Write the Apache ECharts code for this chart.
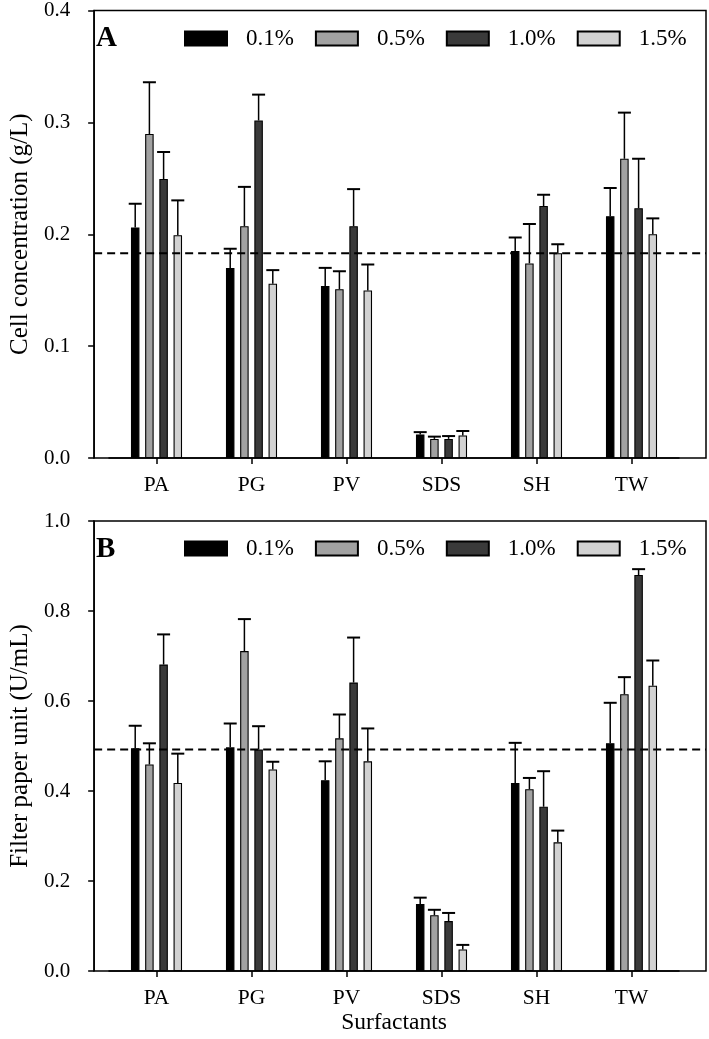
<!DOCTYPE html>
<html>
<head>
<meta charset="utf-8">
<script src="https://cdn.jsdelivr.net/npm/echarts@6/dist/echarts.min.js"></script>
<style>
  html, body { margin: 0; padding: 0; background: #fff; }
  #chart { width: 709px; height: 1039px; }
</style>
</head>
<body>
<div id="chart"></div>
<script>
// ---------- data ----------
const categories = ['PA', 'PG', 'PV', 'SDS', 'SH', 'TW'];
const concentrations = ['0.1%', '0.5%', '1.0%', '1.5%'];

// Panel A: cell concentration (g/L)
const cell_0_1 = [0.205, 0.169, 0.153, 0.021, 0.184, 0.215];
const cell_0_5 = [0.288, 0.206, 0.150, 0.017, 0.173, 0.266];
const cell_1_0 = [0.248, 0.300, 0.206, 0.017, 0.224, 0.222];
const cell_1_5 = [0.198, 0.155, 0.149, 0.020, 0.182, 0.199];
const cellErr_0_1 = [0.021, 0.017, 0.016, 0.002, 0.012, 0.025];
const cellErr_0_5 = [0.046, 0.035, 0.016, 0.002, 0.035, 0.041];
const cellErr_1_0 = [0.024, 0.023, 0.033, 0.0025, 0.010, 0.044];
const cellErr_1_5 = [0.031, 0.012, 0.023, 0.004, 0.008, 0.014];
const cellBaseline = 0.183;

// Panel B: filter paper unit (U/mL)
const fpu_0_1 = [0.495, 0.497, 0.424, 0.149, 0.418, 0.506];
const fpu_0_5 = [0.459, 0.711, 0.517, 0.124, 0.404, 0.615];
const fpu_1_0 = [0.681, 0.492, 0.641, 0.111, 0.365, 0.880];
const fpu_1_5 = [0.418, 0.448, 0.466, 0.048, 0.286, 0.634];
const fpuErr_0_1 = [0.050, 0.053, 0.042, 0.014, 0.089, 0.090];
const fpuErr_0_5 = [0.047, 0.071, 0.053, 0.012, 0.025, 0.038];
const fpuErr_1_0 = [0.067, 0.052, 0.100, 0.018, 0.079, 0.013];
const fpuErr_1_5 = [0.065, 0.017, 0.073, 0.010, 0.026, 0.056];
const fpuBaseline = 0.492;

// ---------- style ----------
const FONT = 'Liberation Serif';
const COLORS = ['#000000', '#a2a2a2', '#3a3a3a', '#d2d2d2'];
const BAR_W = 8.5;
const BAR_GAP = 0.67;
const BAR_PITCH = BAR_W * (1 + BAR_GAP);
const CAP = 13;

const chart = echarts.init(document.getElementById('chart'), null, { renderer: 'canvas' });

function barSeries(name, data, idx, axis) {
  return {
    name: name, type: 'bar', xAxisIndex: axis, yAxisIndex: axis,
    data: data, barWidth: BAR_W, barGap: (BAR_GAP * 100) + '%',
    itemStyle: { color: COLORS[idx], borderColor: '#000', borderWidth: 1.1 },
    z: 3, animation: false
  };
}
function errSeries(vals, errs, idx, axis) {
  return {
    type: 'custom', name: 'err' + axis + '_' + idx, xAxisIndex: axis, yAxisIndex: axis,
    data: vals.map((v, i) => [i, v, v + errs[i]]),
    renderItem: function (params, api) {
      const base = api.coord([api.value(0), api.value(1)]);
      const top = api.coord([api.value(0), api.value(2)]);
      const x = base[0] + (idx - 1.5) * BAR_PITCH;
      return {
        type: 'group',
        children: [
          { type: 'line', shape: { x1: x, y1: base[1], x2: x, y2: top[1] }, style: { stroke: '#000', lineWidth: 1.5 } },
          { type: 'line', shape: { x1: x - CAP / 2, y1: top[1], x2: x + CAP / 2, y2: top[1] }, style: { stroke: '#000', lineWidth: 2 } }
        ]
      };
    },
    z: 2, animation: false
  };
}
function baseline(val, axis) {
  return {
    type: 'line', xAxisIndex: axis, yAxisIndex: axis,
    data: [[0, val], [1, val]], symbol: 'none',
    lineStyle: { color: '#000', width: 2, type: [8, 5] },
    z: 6, animation: false, silent: true
  };
}

const framePos = [{ top: 8 }, { top: 521 }];
const grids = [];
framePos.forEach(p => {
  grids.push({ left: 81, top: p.top, width: 625, height: 450, show: true, borderColor: '#000', borderWidth: 1.5, backgroundColor: 'transparent' });
  grids.push({ left: 109, top: p.top, width: 570, height: 450 });
});

const axisLineStyle = { show: true, lineStyle: { color: '#000', width: 1.5 } };
const catLabel = { color: '#000', fontFamily: FONT, fontSize: 21.5, margin: 16 };
const catTick = { show: true, alignWithLabel: true, length: 6, lineStyle: { color: '#000', width: 1.5 } };
const xAxes = [
  { gridIndex: 0, type: 'value', min: 0, max: 1, show: false },
  { gridIndex: 1, type: 'category', data: categories, axisLine: axisLineStyle, axisTick: catTick, axisLabel: catLabel },
  { gridIndex: 2, type: 'value', min: 0, max: 1, show: false },
  { gridIndex: 3, type: 'category', data: categories, axisLine: axisLineStyle, axisTick: catTick, axisLabel: catLabel,
    name: 'Surfactants', nameLocation: 'middle', nameGap: 40,
    nameTextStyle: { color: '#000', fontFamily: FONT, fontSize: 23.5 } }
];
function frameY(grid, max, interval, name) {
  return {
    gridIndex: grid, type: 'value', min: 0, max: max, interval: interval,
    axisLine: axisLineStyle,
    axisTick: { show: true, inside: false, length: 6, lineStyle: { color: '#000', width: 1.5 } },
    axisLabel: { color: '#000', fontFamily: FONT, fontSize: 21, margin: 24, formatter: v => v.toFixed(1) },
    splitLine: { show: false },
    name: name, nameLocation: 'middle', nameGap: 61, nameRotate: 90,
    nameTextStyle: { color: '#000', fontFamily: FONT, fontSize: 25 }
  };
}
const yAxes = [
  frameY(0, 0.4, 0.1, 'Cell concentration (g/L)'),
  { gridIndex: 1, type: 'value', min: 0, max: 0.4, show: false },
  frameY(2, 1.0, 0.2, 'Filter paper unit (U/mL)'),
  { gridIndex: 3, type: 'value', min: 0, max: 1.0, show: false }
];

const cellVals = [cell_0_1, cell_0_5, cell_1_0, cell_1_5];
const cellErrs = [cellErr_0_1, cellErr_0_5, cellErr_1_0, cellErr_1_5];
const fpuVals = [fpu_0_1, fpu_0_5, fpu_1_0, fpu_1_5];
const fpuErrs = [fpuErr_0_1, fpuErr_0_5, fpuErr_1_0, fpuErr_1_5];

const series = [];
concentrations.forEach((c, i) => {
  series.push(barSeries(c, cellVals[i], i, 1));
  series.push(errSeries(cellVals[i], cellErrs[i], i, 1));
  series.push(barSeries(c, fpuVals[i], i, 3));
  series.push(errSeries(fpuVals[i], fpuErrs[i], i, 3));
});
series.push(baseline(cellBaseline, 0));
series.push(baseline(fpuBaseline, 2));

function legend(top) {
  return {
    data: concentrations, left: 184, top: top, orient: 'horizontal', padding: 0,
    icon: 'rect', itemWidth: 42, itemHeight: 14, itemGap: 21, selectedMode: false,
    textStyle: { color: '#000', fontFamily: FONT, fontSize: 23, padding: [0, 0, 0, 14] }
  };
}

chart.setOption({
  animation: false,
  backgroundColor: '#fff',
  title: [
    { text: 'A', left: 96, top: 24, padding: 0, textStyle: { color: '#000', fontFamily: FONT, fontSize: 29, fontWeight: 'bold' } },
    { text: 'B', left: 96, top: 535, padding: 0, textStyle: { color: '#000', fontFamily: FONT, fontSize: 29, fontWeight: 'bold' } }
  ],
  legend: [legend(27), legend(537)],
  grid: grids,
  xAxis: xAxes,
  yAxis: yAxes,
  series: series
});
</script>
</body>
</html>
